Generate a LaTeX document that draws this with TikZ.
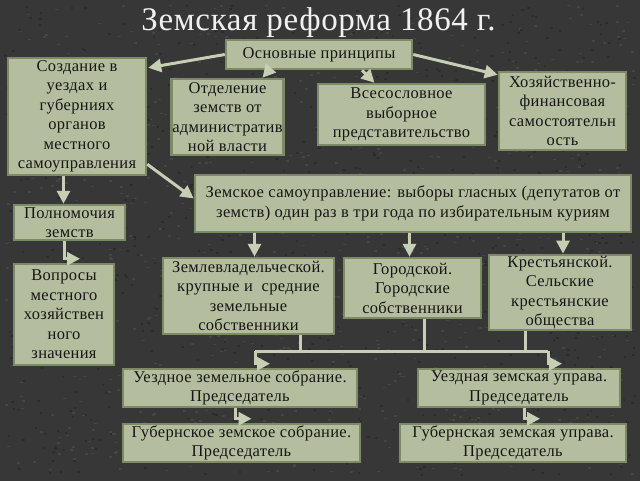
\documentclass[tikz,border=0pt]{standalone}
\usepackage{fontspec}
\setmainfont{Liberation Serif}[LetterSpace=2]
\usetikzlibrary{calc, arrows.meta}

\definecolor{bgdark}{HTML}{373737}
\definecolor{bgspeck}{HTML}{454545}
\definecolor{bgshade}{HTML}{2C2C2C}
\definecolor{boxfill}{HTML}{B4BE9E}
\definecolor{boxline}{HTML}{7C8A66}
\definecolor{arrowcol}{HTML}{C6CEB4}
\definecolor{txtcol}{HTML}{161616}
\definecolor{titlecol}{HTML}{F0F0F0}

\tikzset{
  box/.style={draw=boxline, line width=2.5pt, fill=boxfill, text=txtcol,
    align=center, inner sep=1pt, font=\fontsize{16.5}{19.5}\selectfont},
  arr/.style={draw=arrowcol, line width=3pt, -{Triangle[length=13pt,width=13pt]}},
  link/.style={draw=arrowcol, line width=3pt},
}

\begin{document}
\begin{tikzpicture}[x=1pt, y=-1pt]
  \useasboundingbox (0,0) rectangle (640,480);

  % Background with a little grain
  \fill[bgdark] (-6,-6) rectangle (646,486);
  \pgfmathsetseed{1864}
  \foreach \i in {1,...,900} {
    \pgfmathsetmacro{\px}{4+630*rnd}
    \pgfmathsetmacro{\py}{4+470*rnd}
    \fill[bgspeck] (\px,\py) rectangle ++(3,1.5);
  }
  \foreach \i in {1,...,900} {
    \pgfmathsetmacro{\px}{4+630*rnd}
    \pgfmathsetmacro{\py}{4+470*rnd}
    \fill[bgshade] (\px,\py) rectangle ++(2.5,2);
  }

  % Title
  \node[text=titlecol, font=\fontsize{33}{36}\selectfont] (title) at (318.5,22.5) {Земская реформа 1864 г.};

  % Principles
  \node[box, minimum width=186, minimum height=29] (osn) at (319,54.5) {Основные принципы};
  \node[box, minimum width=138, minimum height=117] (sozd) at (77,116.5)
    {Создание в\\ уездах и\\ губерниях\\ органов\\ местного\\ самоуправления};
  \node[box, minimum width=109, minimum height=76] (otd) at (227.5,117)
    {Отделение\\ земств от\\ административ\\ ной власти};
  \node[box, minimum width=167, minimum height=61] (vses) at (401.5,114.5)
    {Всесословное\\ выборное\\ представительство};
  \node[box, minimum width=127, minimum height=78] (hoz) at (562.5,111)
    {Хозяйственно-\\ финансовая\\ самостоятельн\\ ость};

  % Elections
  \node[box, minimum width=436, minimum height=57] (zem) at (413,203.5)
    {Земское самоуправление: выборы гласных (депутатов от\\ земств) один раз в три года по избирательным куриям};
  \node[box, minimum width=111, minimum height=35] (poln) at (69.5,222.5) {Полномочия\\ земств};
  \node[box, minimum width=100, minimum height=101] (vopr) at (64,314.5)
    {Вопросы\\ местного\\ хозяйствен\\ ного\\ значения};

  % Curiae
  \node[box, minimum width=171, minimum height=76] (zeml) at (248.5,296)
    {Землевладельческой.\\ крупные и\ \ средние\\ земельные\\ собственники};
  \node[box, minimum width=137, minimum height=60] (gor) at (412.5,288)
    {Городской.\\ Городские\\ собственники};
  \node[box, minimum width=142, minimum height=75] (krest) at (560,292.5)
    {Крестьянской.\\ Сельские\\ крестьянские\\ общества};

  % Organs
  \node[box, minimum width=234, minimum height=38] (uezdsobr) at (240,388)
    {Уездное земельное собрание.\\ Председатель};
  \node[box, minimum width=202, minimum height=38] (uezdupr) at (519,388)
    {Уездная земская управа.\\ Председатель};
  \node[box, minimum width=237, minimum height=38] (gubsobr) at (241.5,443)
    {Губернское земское собрание.\\ Председатель};
  \node[box, minimum width=226, minimum height=38] (gubupr) at (513,443)
    {Губернская земская управа.\\ Председатель};

  % Arrows from the principles
  \draw[arr] (osn.west) -- ($(sozd.north east)+(1,11)$);
  \draw[arr] ($(osn.south)+(-50,0)$) -- ($(otd.north)+(35,0)$);
  \draw[arr] ($(osn.south)+(43,0)$) -- ($(vses.north)+(-27,0)$);
  \draw[arr] (osn.east) -- ($(hoz.north west)+(0,4)$);
  \draw[arr] ($(sozd.south east)+(0,-12)$) -- ($(zem.west)+(0,-5)$);

  % Left column
  \draw[arr] ([xshift=-6pt]poln.north |- sozd.south) -- ([xshift=-6pt]poln.north);
  \draw[arr] ([xshift=-5.5pt]poln.south) |- ($(vopr.north)+(16,-4)$);

  % Elections to curiae
  \draw[arr] ([xshift=6pt]zeml.north |- zem.south) -- ([xshift=6pt]zeml.north);
  \draw[arr] ([xshift=-3pt]gor.north |- zem.south) -- ([xshift=-3pt]gor.north);
  \draw[arr] ([xshift=3pt]krest.north |- zem.south) -- ([xshift=3pt]krest.north);

  % Curiae to district organs
  \coordinate (busL) at (255,351);
  \coordinate (busR) at (548,351);
  \draw[link] ([xshift=52pt]zeml.south) -- ([xshift=52pt]zeml.south |- busL);
  \draw[link] ([xshift=12pt]gor.south) -- ([xshift=12pt]gor.south |- busL);
  \draw[link] ([xshift=-35pt]krest.south) -- ([xshift=-35pt]krest.south |- busL);
  \draw[link] (busL) -- (busR);
  \draw[arr] (busL) |- ($(uezdsobr.north)+(30,-4)$);
  \draw[arr] (busR) |- ($(uezdupr.north)+(43,-4)$);

  % District to province
  \draw[arr] ([xshift=-5pt]uezdsobr.south) |- ($(gubsobr.north)+(10,-4)$);
  \draw[arr] ([xshift=5pt]uezdupr.south) |- ($(gubupr.north)+(27,-4)$);

\end{tikzpicture}
\end{document}
